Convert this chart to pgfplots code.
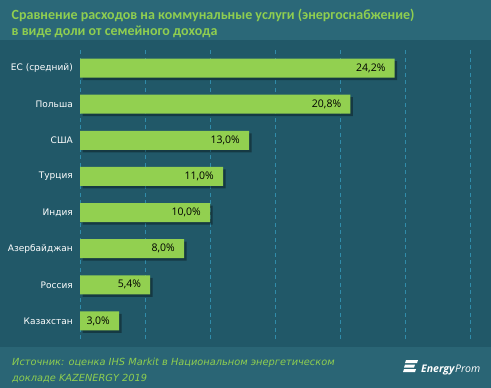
\documentclass[border=0pt]{standalone}
\usepackage{pgfplots}
\pgfplotsset{compat=1.18}
\usepackage{fontspec}
\setmainfont{DejaVu Sans}
\newfontfamily\titlefont{Carlito}
\newfontfamily\valfont{Open Sans}
\definecolor{bgtitle}{RGB}{43,104,120}
\definecolor{bgbody}{RGB}{33,88,104}
\definecolor{bgfoot}{RGB}{42,101,117}
\definecolor{tgreen}{RGB}{143,206,80}
\definecolor{bargreen}{RGB}{146,208,80}
\definecolor{gridblue}{RGB}{48,140,170}
\begin{document}
\begin{tikzpicture}
\fill[bgbody] (0bp,0bp) rectangle (491bp,-388bp);
\fill[bgtitle] (0bp,0bp) rectangle (491bp,-40bp);
\fill[bgfoot] (0bp,-347bp) rectangle (491bp,-388bp);
\node[anchor=base west, inner sep=0, text=tgreen, font=\titlefont\bfseries\fontsize{14bp}{16bp}\selectfont] at (11.5bp,-19.5bp) {Сравнение расходов на коммунальные услуги (энергоснабжение)};
\node[anchor=base west, inner sep=0, text=tgreen, font=\titlefont\bfseries\fontsize{14bp}{16bp}\selectfont] at (11.5bp,-35.5bp) {в виде доли от семейного дохода};
\node[anchor=base west, inner sep=0, text=tgreen, font=\itshape\fontsize{9.8bp}{12bp}\selectfont] at (12bp,-365bp) {Источник: оценка IHS Markit в Национальном энергетическом};
\node[anchor=base west, inner sep=0, text=tgreen, font=\itshape\fontsize{9.8bp}{12bp}\selectfont] at (12bp,-381bp) {докладе KAZENERGY 2019};
% logo
\fill[white] (406bp,-360bp) -- (418bp,-360bp) -- (417bp,-363bp) -- (405bp,-363bp) -- cycle;
\fill[white] (405bp,-364.5bp) -- (415bp,-364.5bp) -- (414bp,-367.5bp) -- (404bp,-367.5bp) -- cycle;
\fill[white] (404bp,-369bp) -- (416bp,-369bp) -- (415bp,-372bp) -- (403bp,-372bp) -- cycle;
\node[anchor=base west, inner sep=0, text=white, font=\valfont\fontsize{10.5bp}{12bp}\selectfont] at (421bp,-372bp) {\textbf{\itshape Energy}\textit{Prom}};
\begin{axis}[
  at={(80bp,-339bp)}, anchor=south west, scale only axis,
  width=403bp, height=289bp,
  xbar, bar width=19bp,
  xmin=0, xmax=31, ymin=-0.5, ymax=7.5,
  ytick={0,...,7},
  yticklabels={Казахстан,Россия,Азербайджан,Индия,Турция,США,Польша,ЕС (средний)},
  xtick={5,10,...,30}, xticklabels={},
  xmajorgrids,
  major grid style={draw=gridblue, line width=0.7pt, dash pattern=on 4bp off 3.5bp},
  extra x ticks={0}, extra x tick labels={},
  extra x tick style={grid style={solid, draw=white, line width=0.9pt}},
  axis line style={draw=none},
  major tick length=0,
  yticklabel style={text=white, inner sep=0, xshift=-7bp, font=\fontsize{9bp}{11bp}\selectfont},
  nodes near coords={\pgfmathprintnumber[fixed, fixed zerofill, precision=1, use comma, assume math mode=true]{\pgfplotspointmeta}\%},
  nodes near coords align={left},
  every node near coord/.append style={text=black, inner sep=0, xshift=-9bp, font=\valfont\fontsize{10.5bp}{12bp}\selectfont},
]
\addplot[fill=bargreen, draw=none,
  preaction={fill=black, opacity=0.35, transform canvas={xshift=2.5bp,yshift=-2.5bp}}]
  coordinates {(3.0,0) (5.4,1) (8.0,2) (10.0,3) (11.0,4) (13.0,5) (20.8,6) (24.2,7)};
\end{axis}
\end{tikzpicture}
\end{document}
